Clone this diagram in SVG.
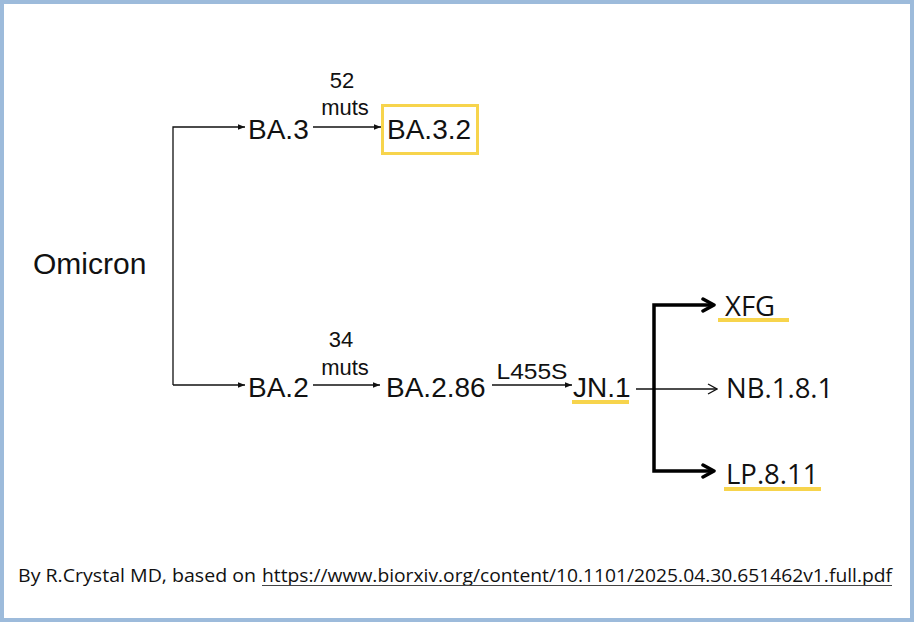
<svg xmlns="http://www.w3.org/2000/svg" width="914" height="622" viewBox="0 0 914 622">
<style>
.a{font-family:"Liberation Sans",Arial,sans-serif;fill:#111}
.b{font-family:"Open Sans","Liberation Sans",sans-serif;fill:#111}
.thin{stroke:#111;stroke-width:1.3;fill:none}
.thick{stroke:#000;stroke-width:3.5;fill:none}
.hl{stroke:#f7d44c;stroke-width:4}
</style>
<defs>
<marker id="ah" viewBox="0 0 10 10" refX="10" refY="5" markerWidth="7" markerHeight="7" markerUnits="userSpaceOnUse" orient="auto"><path d="M0,1 L10,5 L0,9 Z" fill="#111"/></marker>
<marker id="open" viewBox="0 0 12 12" refX="11" refY="6" markerWidth="12" markerHeight="12" markerUnits="userSpaceOnUse" orient="auto"><path d="M2,1 L11,6 L2,11" fill="none" stroke="#111" stroke-width="1.3"/></marker>
<marker id="bigopen" viewBox="0 0 16 16" refX="14" refY="8" markerWidth="16" markerHeight="16" markerUnits="userSpaceOnUse" orient="auto"><path d="M3,2 L14,8 L3,14" fill="none" stroke="#000" stroke-width="3.5" stroke-linecap="round" stroke-linejoin="round"/></marker>
</defs>
<rect x="0" y="0" width="914" height="622" fill="#fff"/>
<rect x="2" y="2" width="910" height="618" fill="none" stroke="#9dbbdb" stroke-width="4"/>
<g id="connectors">
<path class="thin" d="M173,385 L173,127 L245,127" marker-end="url(#ah)"/>
<path class="thin" d="M173,385 L245,385" marker-end="url(#ah)"/>
<path class="thin" d="M313,127 L381,127" marker-end="url(#ah)"/>
<path class="thin" d="M313,385 L380,385" marker-end="url(#ah)"/>
<path class="thin" d="M492,385 L572,385" marker-end="url(#ah)"/>
<path class="thin" d="M636,389 L717,389" marker-end="url(#open)"/>
<path class="thick" d="M654,389 L654,305 L714,305" marker-end="url(#bigopen)"/>
<path class="thick" d="M654,389 L654,471 L714,471" marker-end="url(#bigopen)"/>
<text class="a" x="342" y="88" font-size="22" text-anchor="middle">52</text>
<text class="a" x="345" y="115" font-size="22" text-anchor="middle">muts</text>
<text class="a" x="341" y="347" font-size="22" text-anchor="middle">34</text>
<text class="a" x="345" y="375" font-size="22" text-anchor="middle">muts</text>
<text class="a" x="532" y="379" font-size="22" text-anchor="middle" textLength="71" lengthAdjust="spacingAndGlyphs">L455S</text>
</g>
<g id="omicron"><text class="a" x="33" y="274" font-size="30">Omicron</text></g>
<g id="ba3"><text class="a" x="248" y="139" font-size="28">BA.3</text></g>
<g id="ba32"><rect x="382.5" y="105.5" width="95" height="48" fill="none" stroke="#f7d44c" stroke-width="3"/><text class="a" x="387" y="139" font-size="28">BA.3.2</text></g>
<g id="ba2"><text class="a" x="248" y="397" font-size="28">BA.2</text></g>
<g id="ba286"><text class="a" x="386" y="397" font-size="28">BA.2.86</text></g>
<g id="jn1"><text class="a" x="573" y="397" font-size="28">JN.1</text><line class="hl" x1="572" y1="402" x2="629" y2="402"/></g>
<g id="xfg"><text class="b" x="725" y="316" font-size="27.5">XFG</text><line class="hl" x1="718" y1="320" x2="789" y2="320"/></g>
<g id="nb181"><text class="b" x="726" y="398" font-size="27.5">NB.1.8.1</text></g>
<g id="lp811"><text class="b" x="726" y="484" font-size="27.5">LP.8.11</text><line class="hl" x1="724" y1="489" x2="821" y2="489"/></g>
<g id="credit">
<text class="b" x="18" y="582" font-size="18" textLength="238" lengthAdjust="spacingAndGlyphs">By R.Crystal MD, based on</text>
<text class="b" x="262" y="582" font-size="18" textLength="630" lengthAdjust="spacingAndGlyphs">https://www.biorxiv.org/content/10.1101/2025.04.30.651462v1.full.pdf</text>
<line x1="262" y1="585.5" x2="892" y2="585.5" stroke="#444" stroke-width="1"/>
</g>
</svg>
